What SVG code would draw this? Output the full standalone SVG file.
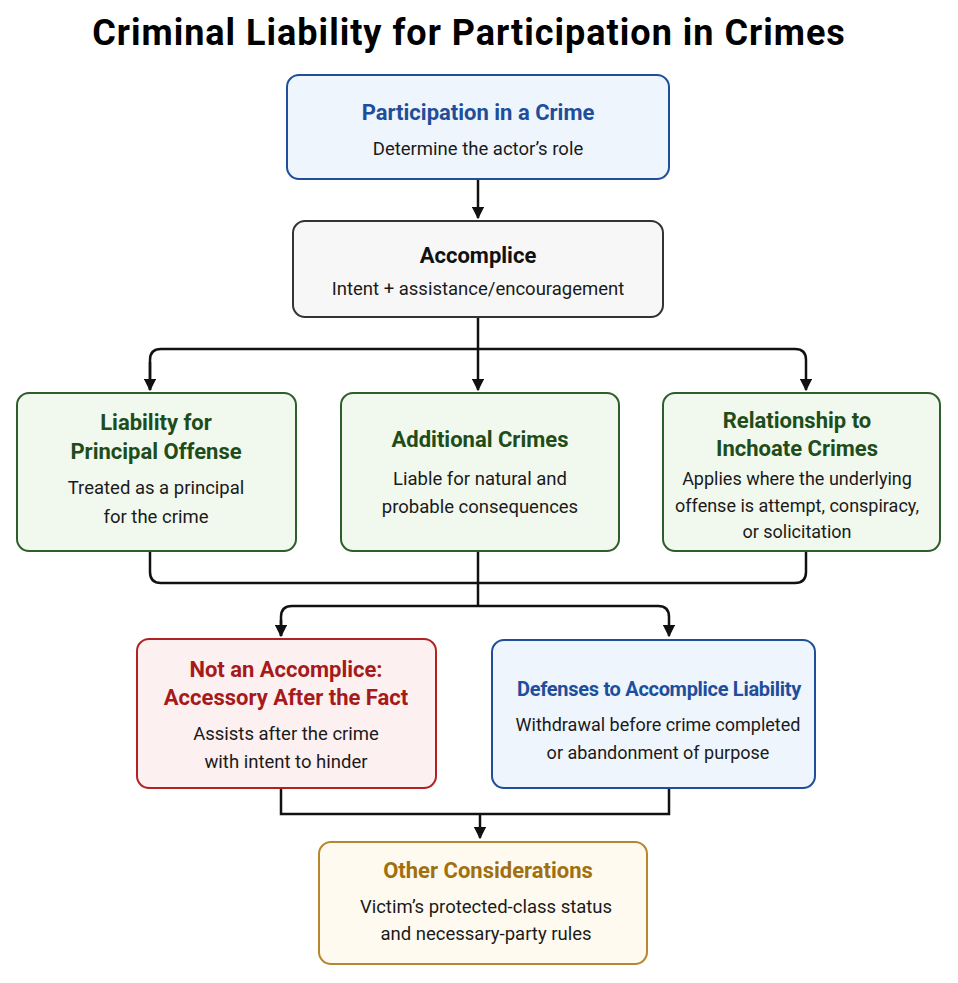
<svg xmlns="http://www.w3.org/2000/svg" width="958" height="983" viewBox="0 0 958 983">
<defs>
<marker id="ah" viewBox="0 0 10 10" refX="9" refY="5" markerWidth="5" markerHeight="5" orient="auto"><path d="M0,0 L10,5 L0,10 z" fill="#111"/></marker>
<style>
text{font-family:Roboto,"Liberation Sans",sans-serif;text-anchor:middle}
.tt{font-size:22px;font-weight:bold}
.sb{font-size:18.5px;fill:#1a1a1a}
.box{stroke-width:2}
.c{fill:none;stroke:#111;stroke-width:2.5}
</style>
</defs>
<rect width="958" height="983" fill="#fff"/>
<text x="469" y="45" style="font-size:36px;font-weight:bold;letter-spacing:1px" fill="#000">Criminal Liability for Participation in Crimes</text>
<g id="connectors">
<path class="c" d="M478,179 V218" marker-end="url(#ah)"/>
<path class="c" d="M478,317 V390" marker-end="url(#ah)"/>
<path class="c" d="M150,390 V360 Q150,349 161,349 H795 Q806,349 806,360 V390" marker-end="url(#ah)"/>
<path class="c" d="M150,362 V390" marker-end="url(#ah)"/>
<path class="c" d="M150,551 V572 Q150,583 161,583 H795 Q806,583 806,572 V551"/>
<path class="c" d="M478,551 V606"/>
<path class="c" d="M281,636 V617 Q281,606 292,606 H658 Q669,606 669,617 V636" marker-end="url(#ah)"/>
<path class="c" d="M281,620 V636" marker-end="url(#ah)"/>
<path class="c" d="M281,788 V814 H669 V788"/>
<path class="c" d="M480,814 V838" marker-end="url(#ah)"/>
</g>
<g id="participation">
<rect class="box" x="287" y="75" width="382" height="104" rx="12" fill="#eef5fd" stroke="#1f4e9a"/>
<text x="478" y="120" class="tt" fill="#1f4e9a">Participation in a Crime</text>
<text x="478" y="155" class="sb">Determine the actor’s role</text>
</g>
<g id="accomplice">
<rect class="box" x="293" y="221" width="370" height="96" rx="12" fill="#f7f7f7" stroke="#333"/>
<text x="478" y="263" class="tt" fill="#111">Accomplice</text>
<text x="478" y="295" class="sb">Intent + assistance/encouragement</text>
</g>
<g id="principal">
<rect class="box" x="17" y="393" width="279" height="158" rx="12" fill="#f1f8ee" stroke="#2e5e2a"/>
<text x="156" y="430" class="tt" fill="#1e4d1a">Liability for</text>
<text x="156" y="459" class="tt" fill="#1e4d1a">Principal Offense</text>
<text x="156" y="494" class="sb">Treated as a principal</text>
<text x="156" y="523" class="sb">for the crime</text>
</g>
<g id="additional">
<rect class="box" x="341" y="393" width="278" height="158" rx="12" fill="#f1f8ee" stroke="#2e5e2a"/>
<text x="480" y="447" class="tt" fill="#1e4d1a">Additional Crimes</text>
<text x="480" y="485" class="sb">Liable for natural and</text>
<text x="480" y="513" class="sb">probable consequences</text>
</g>
<g id="inchoate">
<rect class="box" x="663" y="393" width="277" height="158" rx="12" fill="#f1f8ee" stroke="#2e5e2a"/>
<text x="797" y="428" class="tt" fill="#1e4d1a">Relationship to</text>
<text x="797" y="456" class="tt" fill="#1e4d1a">Inchoate Crimes</text>
<text x="797" y="485" class="sb" style="font-size:18px">Applies where the underlying</text>
<text x="797" y="512" class="sb" style="font-size:18px">offense is attempt, conspiracy,</text>
<text x="797" y="538" class="sb" style="font-size:18px">or solicitation</text>
</g>
<g id="accessory">
<rect class="box" x="137" y="639" width="299" height="149" rx="12" fill="#fdf0f0" stroke="#b22222"/>
<text x="286" y="677" class="tt" fill="#a51a1a">Not an Accomplice:</text>
<text x="286" y="705" class="tt" fill="#a51a1a">Accessory After the Fact</text>
<text x="286" y="740" class="sb">Assists after the crime</text>
<text x="286" y="768" class="sb">with intent to hinder</text>
</g>
<g id="defenses">
<rect class="box" x="492" y="640" width="323" height="148" rx="12" fill="#eef5fd" stroke="#1f4e9a"/>
<text x="659" y="696" class="tt" fill="#1f4e9a" style="font-size:20px;letter-spacing:-0.3px">Defenses to Accomplice Liability</text>
<text x="658" y="731" class="sb" style="font-size:18px">Withdrawal before crime completed</text>
<text x="658" y="759" class="sb" style="font-size:18px">or abandonment of purpose</text>
</g>
<g id="other">
<rect class="box" x="319" y="842" width="328" height="122" rx="12" fill="#fffaf0" stroke="#b8862b"/>
<text x="488" y="878" class="tt" fill="#a0700f">Other Considerations</text>
<text x="486" y="913" class="sb">Victim’s protected-class status</text>
<text x="486" y="940" class="sb">and necessary-party rules</text>
</g>
</svg>
